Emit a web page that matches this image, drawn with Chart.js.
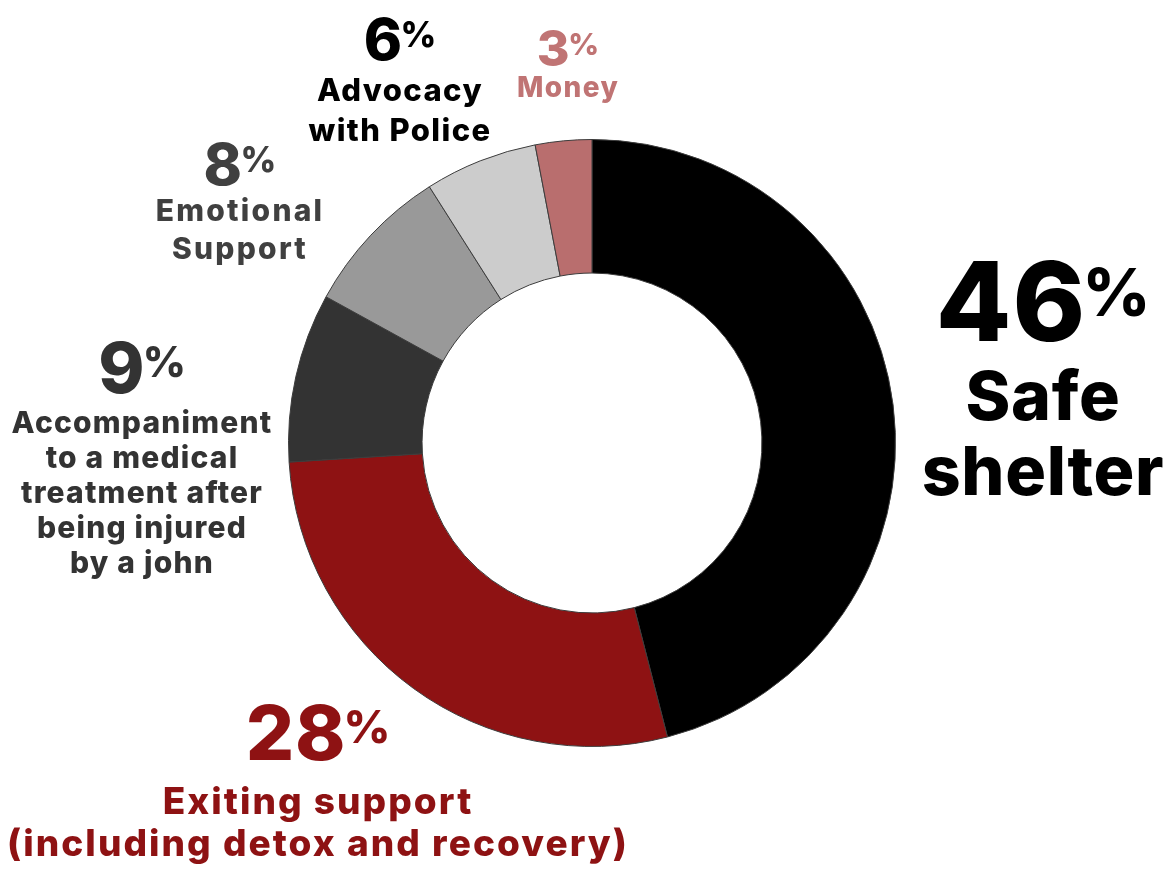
<!DOCTYPE html>
<html>
<head>
<meta charset="utf-8">
<script src="https://cdn.jsdelivr.net/npm/chart.js@4"></script>
<style>
  html, body { margin: 0; padding: 0; background: #fff; }
  #wrap { position: relative; width: 1174px; height: 869px; overflow: hidden; }
  #chart { position: absolute; left: 0; top: 0; }
  .lbl { position: absolute; transform: translateX(-50%); text-align: center;
         font-family: Inter, "Open Sans", sans-serif; font-weight: 800; white-space: nowrap; }
  .num { line-height: 1; letter-spacing: 0.01em; }
  .pct { font-size: 0.6em; vertical-align: 0.38em; letter-spacing: 0; margin-left: -0.06em; }
</style>
</head>
<body>
<div id="wrap">
  <canvas id="chart" width="1174" height="869"></canvas>
</div>
<script>
// Services requested, clockwise from 12 o'clock
const categories = [
  'Safe shelter',
  'Exiting support (including detox and recovery)',
  'Accompaniment to a medical treatment after being injured by a john',
  'Emotional Support',
  'Advocacy with Police',
  'Money'
];
const shares = [46, 28, 9, 8, 6, 3];

// Label text, broken into lines
const labelLines = [
  ['Safe', 'shelter'],
  ['Exiting support', '(including detox and recovery)'],
  ['Accompaniment', 'to a medical', 'treatment after', 'being injured', 'by a john'],
  ['Emotional', 'Support'],
  ['Advocacy', 'with Police'],
  ['Money']
];

// Styling
const sliceColors = ['#000000', '#8e1213', '#333333', '#999999', '#cccccc', '#b96e6e'];
const textColors  = ['#000000', '#8e1213', '#333333', '#404040', '#000000', '#c07474'];

// Label placement: centre x, top y, number size, text size, line height, gap, tracking
const labelLayout = [
  { x: 1043, y: 246, num: 110, txt: 68, lh: 75, gap: 2,  ls: 0.01 },
  { x: 318,  y: 694, num: 76,  txt: 37, lh: 42, gap: 10, ls: 0.055 },
  { x: 142,  y: 333, num: 70,  txt: 30, lh: 35, gap: 2,  ls: 0.04 },
  { x: 240,  y: 135, num: 58,  txt: 30, lh: 38, gap: -2, ls: 0.075 },
  { x: 400,  y: 10,  num: 58,  txt: 31, lh: 40, gap: 2,  ls: 0.045 },
  { x: 568,  y: 23,  num: 50,  txt: 28, lh: 32, gap: -2, ls: 0.05 }
];

new Chart(document.getElementById('chart'), {
  type: 'doughnut',
  data: {
    labels: categories,
    datasets: [{
      data: shares,
      backgroundColor: sliceColors,
      borderColor: '#3c3c3c',
      borderWidth: 1
    }]
  },
  options: {
    responsive: false,
    animation: false,
    cutout: '56%',
    rotation: 0,
    layout: { padding: { top: 139, bottom: 122, left: 288, right: 278 } },
    plugins: { legend: { display: false }, tooltip: { enabled: false } }
  }
});

// Text labels beside each slice
const wrap = document.getElementById('wrap');
shares.forEach((v, i) => {
  const L = labelLayout[i];
  const box = document.createElement('div');
  box.className = 'lbl';
  box.style.left = L.x + 'px';
  box.style.top = L.y + 'px';
  box.style.color = textColors[i];

  const num = document.createElement('div');
  num.className = 'num';
  num.style.fontSize = L.num + 'px';
  num.innerHTML = v + '<span class="pct">%</span>';
  box.appendChild(num);

  const txt = document.createElement('div');
  txt.style.fontSize = L.txt + 'px';
  txt.style.lineHeight = L.lh + 'px';
  txt.style.marginTop = L.gap + 'px';
  txt.style.letterSpacing = L.ls + 'em';
  txt.innerHTML = labelLines[i].join('<br>');
  box.appendChild(txt);

  wrap.appendChild(box);
});
</script>
</body>
</html>
